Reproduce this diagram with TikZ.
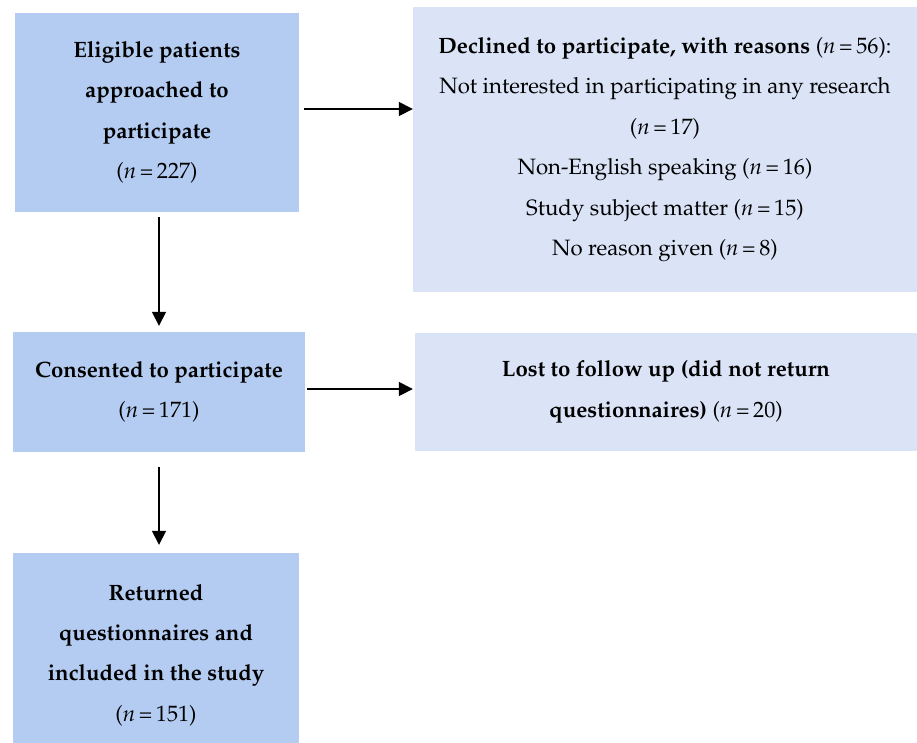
\documentclass[tikz,border=0pt]{standalone}
\usepackage[T1]{fontenc}
\usepackage{mathpazo}
\usetikzlibrary{arrows.meta}
\definecolor{boxdark}{RGB}{180,204,242}
\definecolor{boxlight}{RGB}{218,228,246}
\tikzset{
  x=1pt, y=-1pt,
  base/.style={inner sep=0pt, align=center, font={\fontsize{22.2}{40.4}\selectfont}},
  darkbox/.style={base, fill=boxdark},
  lightbox/.style={base, fill=boxlight},
  arr/.style={line width=1.6pt, -{Triangle[length=14pt,width=14pt]}}
}
\newcommand{\nn}[1]{(\textit{n}\,=\,#1)}
\begin{document}
\begin{tikzpicture}
\clip (0,0) rectangle (917,742);
\fill[white] (0,0) rectangle (917,742);
\node[darkbox, minimum width=284pt, minimum height=199pt] (A) at (157,112.5)
  {\textbf{Eligible patients}\\ \textbf{approached to}\\ \textbf{participate}\\ \nn{227}};
\node[lightbox, minimum width=504pt, minimum height=285pt] (B) at (665,149.5)
  {\textbf{Declined to participate, with reasons} \nn{56}:\\
   Not interested in participating in any research\\ \nn{17}\\
   Non-English speaking \nn{16}\\ Study subject matter \nn{15}\\ No reason given \nn{8}};
\node[darkbox, minimum width=292pt, minimum height=120pt] (C) at (159,392)
  {\textbf{Consented to participate}\\ \nn{171}};
\node[lightbox, minimum width=502pt, minimum height=118pt] (D) at (666,392)
  {\textbf{Lost to follow up (did not return}\\ \textbf{questionnaires)} \nn{20}};
\node[darkbox, minimum width=286pt, minimum height=204pt] (E) at (156,655)
  {\textbf{Returned}\\ \textbf{questionnaires and}\\ \textbf{included in the study}\\ \nn{151}};
\draw[arr] ([xshift=5pt,yshift=3.5pt]A.east) -- ([yshift=3.5pt]A.east -| B.west);
\draw[arr] ([yshift=-5pt]A.south -| C.north) -- ([yshift=6pt]C.north);
\draw[arr] ([xshift=2pt,yshift=3pt]C.east) -- ([xshift=-2pt,yshift=3pt]C.east -| D.west);
\draw[arr] ([yshift=-15pt]C.south) -- ([yshift=8pt]C.south |- E.north);
\end{tikzpicture}
\end{document}
